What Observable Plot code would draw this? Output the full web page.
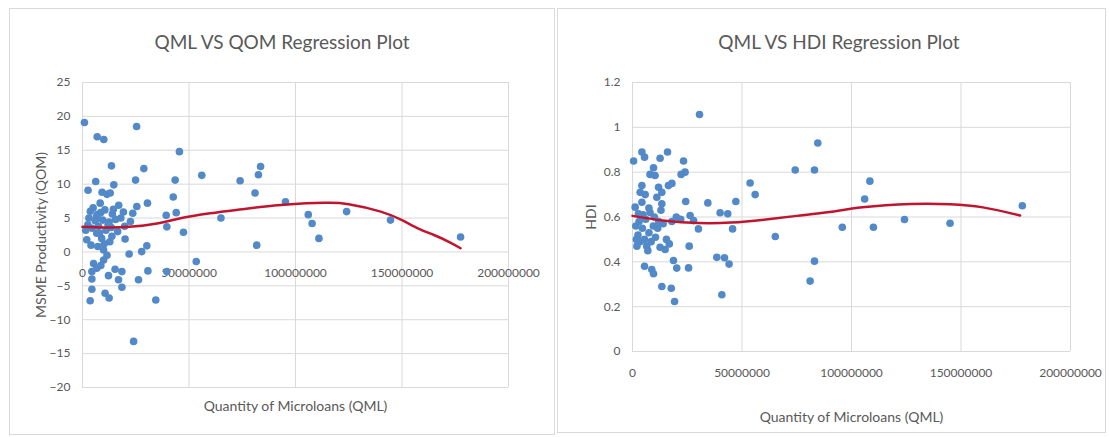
<!DOCTYPE html>
<html>
<head>
<meta charset="utf-8">
<script src="https://cdn.jsdelivr.net/npm/d3@7"></script>
<script src="https://cdn.jsdelivr.net/npm/@observablehq/plot@0.6"></script>
<style>
  html, body { margin: 0; padding: 0; background: #fff; }
  body { width: 1109px; height: 437px; position: relative; overflow: hidden; font-family: Lato, "Open Sans", sans-serif; }
  .panel { position: absolute; border: 1px solid #d9d9d9; background: #fff; box-sizing: border-box; }
  .title { position: absolute; font-family: Lato, sans-serif; font-size: 19px; color: #595959; white-space: nowrap; transform: translateX(-50%); }
  .chart { position: absolute; top: 0; }
</style>
</head>
<body>
<div class="panel" style="left:9px; top:8px; width:546px; height:427px;"></div>
<div class="panel" style="left:557px; top:8px; width:549px; height:425px;"></div>
<div class="title" id="t1" style="left:282px; top:30px;"></div>
<div class="title" id="t2" style="left:839px; top:30px;"></div>
<div class="chart" id="c1" style="left:0px;"></div>
<div class="chart" id="c2" style="left:555px;"></div>
<script>
// ---------- Text ----------
const titleQOM = "QML VS QOM Regression Plot";
const titleHDI = "QML VS HDI Regression Plot";
const xAxisTitle = "Quantity of Microloans (QML)";
const yTitleQOM = "MSME Productivity (QOM)";
const yTitleHDI = "HDI";

// ---------- Ticks ----------
const xTicks = [0, 50, 100, 150, 200];               // millions
const xTickLabels = ["0", "50000000", "100000000", "150000000", "200000000"];
const yTicksQOM = [-20, -15, -10, -5, 0, 5, 10, 15, 20, 25];
const yTicksHDI = [0, 0.2, 0.4, 0.6, 0.8, 1, 1.2];
const yTickLabelsHDI = ["0", "0.2", "0.4", "0.6", "0.8", "1", "1.2"];

// ---------- QML (millions) vs QOM ----------
const qomQML = [0.9,25.4,6.9,10.0,45.5,13.6,28.8,56,74,83.6,82.6,81,95.3,65,43.5,24.9,6.2,14.7,2.6,9.2,11.5,13,42.6,30.5,25.5,23.6,8.3,3.7,17,19.2,18,44,39.3,6.5,9.5,12.5,14,39.6,47.4,81.8,106,107.8,124,144.6,111,177.5,53.4,
  2,6.7,9,13.8,20,9.9,9.9,21.9,27.8,30.2,5.2,4.4,6.7,12.2,15.3,18.5,30.7,39.6,26.3,16.9,18.5,4.4,4.4,3.6,10.6,12.5,34.4,24,
  2.5,4.5,6,7.5,8.5,10.5,11,12,13.5,15.5,16.5,3,5,7,14.5,19.8,22.5,1.5,8,10.2,7.2,4,11.5,8.6,12.8];
const qomVal = [19.1,18.5,17.0,16.6,14.8,12.7,12.3,11.3,10.5,12.6,11.4,8.7,7.4,5.0,10.6,10.6,10.4,9.9,9.1,8.8,8.5,8.7,8.1,7.2,6.7,5.7,7.2,6.0,6.9,5.9,5.0,5.8,5.4,5.2,4.7,4.4,5.6,3.7,2.9,1.0,5.5,4.2,5.95,4.7,2.0,2.2,-1.4,
  1.8,2.75,2.0,2.3,1.9,0.3,-1.2,-0.3,0.05,0.9,-1.7,-2.9,-2.4,-3.5,-2.55,-2.9,-2.8,-2.9,-4.1,-4.1,-5.2,-4.0,-5.5,-7.2,-6.1,-6.8,-7.1,-13.2,
  4.0,3.5,4.6,3.8,5.8,6.2,3.2,4.0,3.6,4.8,3.0,5.0,6.5,5.5,6.3,3.8,4.5,3.2,2.8,1.2,0.8,1.0,-0.5,-2.0,1.5];
// trendline
const qomTrendX = [0, 10, 22, 35, 45, 60, 75, 90, 105, 115, 125, 140, 150, 158, 165, 172, 177.5];
const qomTrendY = [3.7, 3.6, 3.7, 4.2, 4.9, 5.7, 6.3, 6.85, 7.2, 7.25, 7.05, 5.95, 4.7, 3.4, 2.5, 1.5, 0.55];

// ---------- QML (millions) vs HDI ----------
const hdiQML = [30.6,84.6,74.3,83.1,0.5,4.3,5.5,12.6,16,23.3,24,22.2,9.6,8,10.3,18,16.4,4.3,3.5,5.8,4.3,11.9,13.4,11.1,13.4,53.7,56,24.3,34.4,47.2,40,43.5,1.2,2.7,26.3,27.9,30.1,45.7,65.2,83.1,81.1,25.9,38.5,42,44.1,40.8,25.6,18.7,20.2,13.4,17.7,19.2,5.5,8.8,9.6,14.9,12.6,108.4,106,178,124.2,145,95.8,110,
  1.5,2.5,3.5,4.5,5.5,6.5,7.5,8.5,9.5,10.5,11.5,3,6,8,10,12,14,2,7,15.5,16.8,20,22,18,7.5,13,4.8,1.8];
const hdiVal = [1.057,0.93,0.81,0.81,0.85,0.89,0.867,0.862,0.89,0.85,0.80,0.79,0.82,0.79,0.785,0.75,0.74,0.74,0.71,0.70,0.666,0.733,0.71,0.688,0.659,0.752,0.70,0.669,0.663,0.669,0.619,0.614,0.644,0.614,0.607,0.584,0.547,0.547,0.513,0.403,0.314,0.47,0.42,0.418,0.39,0.253,0.373,0.406,0.372,0.29,0.282,0.223,0.38,0.366,0.347,0.455,0.465,0.76,0.68,0.65,0.589,0.572,0.554,0.554,
  0.56,0.52,0.49,0.55,0.50,0.47,0.53,0.49,0.56,0.51,0.55,0.58,0.59,0.62,0.60,0.58,0.57,0.47,0.45,0.50,0.48,0.60,0.59,0.58,0.64,0.63,0.61,0.50];
const hdiTrendX = [0, 15, 30, 45, 60, 75, 90, 105, 127, 145, 160, 177];
const hdiTrendY = [0.605, 0.583, 0.573, 0.575, 0.588, 0.605, 0.622, 0.643, 0.658, 0.657, 0.643, 0.607];

// ---------- Styles ----------
const dotColor = "#5289c8";
const lineColor = "#c0152f";
const gridColor = "#d9d9d9";
const textColor = "#595959";

const zip = (xs, ys) => xs.map((x, i) => ({x, y: ys[i]}));

document.getElementById("t1").textContent = titleQOM;
document.getElementById("t2").textContent = titleHDI;

const baseStyle = {fontFamily: "Lato, sans-serif", fontSize: "12px", color: textColor, background: "transparent", overflow: "visible"};

// Left chart
const c1 = Plot.plot({
  width: 555, height: 437,
  marginLeft: 82, marginRight: 47, marginTop: 82, marginBottom: 50,
  style: baseStyle,
  x: {domain: [0, 200]},
  y: {domain: [-20, 25]},
  marks: [
    Plot.gridY(yTicksQOM, {stroke: gridColor, strokeOpacity: 1}),
    Plot.gridX(xTicks, {stroke: gridColor, strokeOpacity: 1}),
    Plot.axisY(yTicksQOM, {tickSize: 0, tickPadding: 12, fontSize: 12, fill: textColor, label: null}),
    Plot.axisY([], {label: yTitleQOM, labelAnchor: "center", labelOffset: 46, labelArrow: "none", fill: textColor, tickSize: 0, fontSize: 14}),
    Plot.axisX([], {label: xAxisTitle, labelAnchor: "center", labelOffset: 23, labelArrow: "none", fill: textColor, tickSize: 0, fontSize: 14}),
    Plot.text(xTicks, {x: d => d, y: d => 0, text: (d, i) => xTickLabels[i], dy: 21, fill: textColor, fontSize: 12}),
    Plot.dot(zip(qomQML, qomVal), {x: "x", y: "y", r: 3.8, fill: dotColor}),
    Plot.line(zip(qomTrendX, qomTrendY), {x: "x", y: "y", curve: "natural", stroke: lineColor, strokeWidth: 2.5})
  ]
});
document.getElementById("c1").appendChild(c1);

// Right chart
const c2 = Plot.plot({
  width: 554, height: 437,
  marginLeft: 77, marginRight: 39, marginTop: 82, marginBottom: 86,
  style: baseStyle,
  x: {domain: [0, 200]},
  y: {domain: [0, 1.2]},
  marks: [
    Plot.gridY(yTicksHDI, {stroke: gridColor, strokeOpacity: 1}),
    Plot.gridX(xTicks, {stroke: gridColor, strokeOpacity: 1}),
    Plot.axisY(yTicksHDI, {tickSize: 0, tickPadding: 12, fontSize: 12, fill: textColor, tickFormat: (d, i) => yTickLabelsHDI[i], label: null}),
    Plot.axisY([], {label: yTitleHDI, labelAnchor: "center", labelOffset: 46, labelArrow: "none", fill: textColor, tickSize: 0, fontSize: 14}),
    Plot.axisX(xTicks, {tickSize: 0, tickPadding: 17, fontSize: 12, fill: textColor, tickFormat: (d, i) => xTickLabels[i], label: null}),
    Plot.axisX([], {label: xAxisTitle, labelAnchor: "center", labelOffset: 70, labelArrow: "none", fill: textColor, tickSize: 0, fontSize: 14}),
    Plot.dot(zip(hdiQML, hdiVal), {x: "x", y: "y", r: 3.8, fill: dotColor}),
    Plot.line(zip(hdiTrendX, hdiTrendY), {x: "x", y: "y", curve: "natural", stroke: lineColor, strokeWidth: 2.5})
  ]
});
document.getElementById("c2").appendChild(c2);
</script>
</body>
</html>
